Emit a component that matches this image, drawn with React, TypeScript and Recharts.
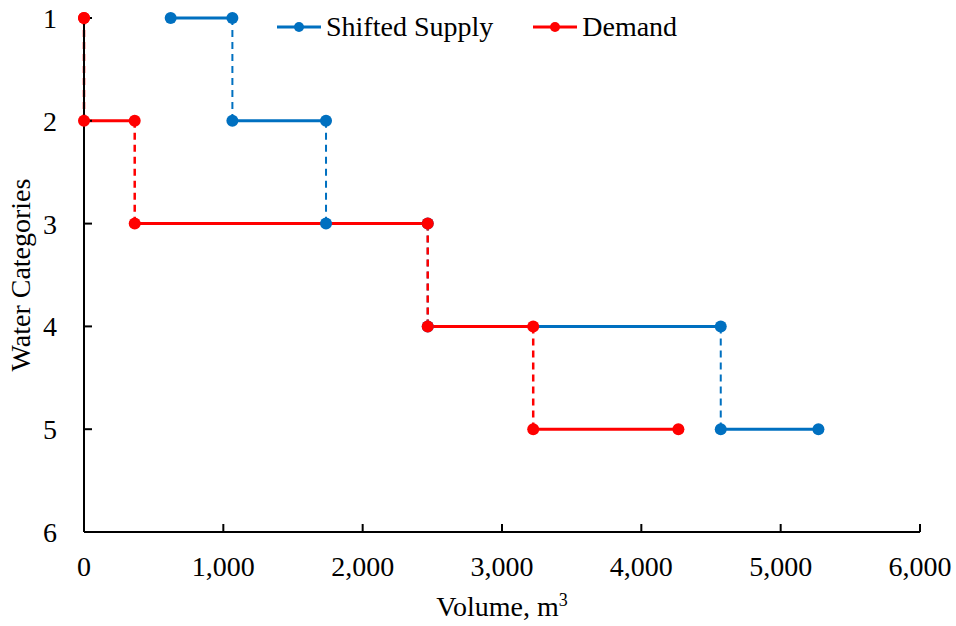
import React from 'react';
import { ComposedChart, Line, XAxis, YAxis, Legend } from 'recharts';

const FONT = '"Liberation Serif", "Times New Roman", serif';
const BLUE = '#0070C0';
const RED = '#FF0000';

const levels = [1, 2, 3, 4, 5];
const supplyStart = [622, 1065, 1737, 2467, 4570];
const supplyEnd = [1065, 1737, 2467, 4570, 5271];
const demandStart = [0, 0, 364, 2467, 3224];
const demandEnd = [0, 364, 2467, 3224, 4266];

const xTicks = [0, 1000, 2000, 3000, 4000, 5000, 6000];
const yTicks = [1, 2, 3, 4, 5, 6];

const legendItems = [
  { name: 'Shifted Supply', color: BLUE },
  { name: 'Demand', color: RED },
];

// step segments: horizontal pieces with markers, dashed drops between levels
function steps(start: number[], end: number[]) {
  const flats = levels.map((lv, i) => [
    { x: start[i], y: lv },
    { x: end[i], y: lv },
  ]);
  const drops = levels.slice(0, -1).map((lv, i) => [
    { x: end[i], y: lv },
    { x: end[i], y: levels[i + 1] },
  ]);
  return { flats, drops };
}

const supply = steps(supplyStart, supplyEnd);
const demand = steps(demandStart, demandEnd);

function LegendContent() {
  return (
    <div style={{ display: 'flex', gap: 40, fontFamily: FONT, fontSize: 28, color: '#000', lineHeight: '32px' }}>
      {legendItems.map((it) => (
        <div key={it.name} style={{ display: 'flex', alignItems: 'center' }}>
          <svg width={44} height={12}>
            <line x1={0} y1={6} x2={44} y2={6} stroke={it.color} strokeWidth={3} />
            <circle cx={22} cy={6} r={5} fill={it.color} />
          </svg>
          <span style={{ marginLeft: 5 }}>{it.name}</span>
        </div>
      ))}
    </div>
  );
}

const tickStyle = { fill: '#000', fontSize: 28, fontFamily: FONT };

function series(s: ReturnType<typeof steps>, color: string, key: string, dashWidth: number) {
  return [
    ...s.drops.map((d, i) => (
      <Line
        key={`${key}-drop-${i}`}
        data={d}
        dataKey="y"
        stroke={color}
        strokeWidth={dashWidth}
        strokeDasharray="7 5"
        dot={false}
        activeDot={false}
        legendType="none"
        isAnimationActive={false}
      />
    )),
    ...s.flats.map((d, i) => (
      <Line
        key={`${key}-flat-${i}`}
        data={d}
        dataKey="y"
        stroke={color}
        strokeWidth={3}
        dot={{ r: 6, fill: color, stroke: color, strokeWidth: 0 }}
        activeDot={false}
        legendType="none"
        isAnimationActive={false}
      />
    )),
  ];
}

export default function App() {
  return (
    <div style={{ position: 'absolute', left: 0, top: 0, background: '#fff' }}>
      <ComposedChart width={956} height={626} margin={{ top: 18, right: 36, bottom: 0, left: 0 }}>
        <XAxis
          type="number"
          dataKey="x"
          domain={[0, 6000]}
          ticks={xTicks}
          height={94}
          tickFormatter={(v: number) => v.toLocaleString('en-US')}
          tick={tickStyle}
          tickSize={-8}
          tickMargin={32}
          axisLine={{ stroke: '#000', strokeWidth: 2 }}
          tickLine={{ stroke: '#000', strokeWidth: 2 }}
          label={{
            content: ({ viewBox }: any) => (
              <text
                x={viewBox.x + viewBox.width / 2}
                y={viewBox.y + 84}
                textAnchor="middle"
                fontFamily={FONT}
                fontSize={28}
                fill="#000"
              >
                Volume, m<tspan dy={-10} fontSize={18}>3</tspan>
              </text>
            ),
          }}
        />
        <YAxis
          type="number"
          dataKey="y"
          domain={[1, 6]}
          ticks={yTicks}
          reversed
          width={84}
          tick={tickStyle}
          tickSize={-8}
          tickMargin={35}
          axisLine={{ stroke: '#000', strokeWidth: 2 }}
          tickLine={{ stroke: '#000', strokeWidth: 2 }}
          label={{
            content: ({ viewBox }: any) => (
              <text
                x={0}
                y={0}
                transform={`translate(${viewBox.x + 30}, ${viewBox.y + viewBox.height / 2}) rotate(-90)`}
                textAnchor="middle"
                fontFamily={FONT}
                fontSize={28}
                fill="#000"
              >
                Water Categories
              </text>
            ),
          }}
        />
        <Legend
          content={LegendContent}
          layout="horizontal"
          verticalAlign="middle"
          align="center"
          wrapperStyle={{ top: 11, left: 277, width: 'auto' }}
        />
        {series(supply, BLUE, 'supply', 2)}
        {series(demand, RED, 'demand', 2.5)}
      </ComposedChart>
    </div>
  );
}
